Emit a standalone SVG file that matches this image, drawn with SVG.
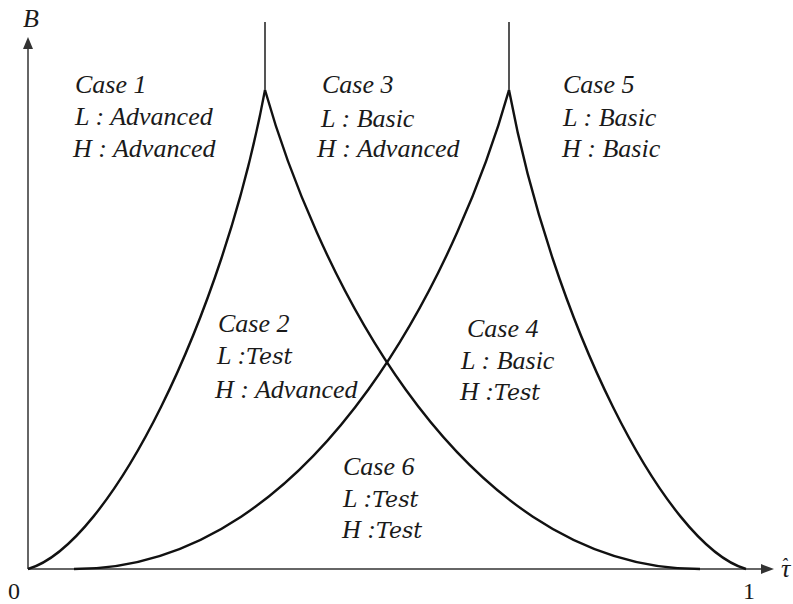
<svg xmlns="http://www.w3.org/2000/svg" width="793" height="604" viewBox="0 0 793 604">
<style>
.t{font-family:"Liberation Serif","Times New Roman",serif;font-style:italic;font-size:26px;fill:#1a1a1a}
.m{font-family:"DejaVu Serif",serif;font-style:italic;font-size:22px}
.n{font-family:"Liberation Serif","Times New Roman",serif;font-size:24px;fill:#1a1a1a}
.ax{stroke:#333;stroke-width:1.5;fill:none}
.cv{stroke:#111;stroke-width:2.4;fill:none}
.vl{stroke:#555;stroke-width:2;fill:none}
</style>
<rect width="793" height="604" fill="#fff"/>
<g id="axes">
<line class="ax" x1="28" y1="569" x2="28" y2="46"/>
<polygon points="28,37 23,49 33,49" fill="#333"/>
<line class="ax" x1="28" y1="569" x2="763" y2="569"/>
<polygon points="774,569 761,564 761,574" fill="#333"/>
<text class="t" x="23" y="27" font-size="21">B</text>
<text class="n" x="8" y="599">0</text>
<text class="n" x="743" y="599">1</text>
<text class="t" x="781" y="577" font-size="24">τ<tspan dx="-9" dy="-6" font-size="18">ˆ</tspan></text>
</g>
<g id="connectors">
<path class="cv" d="M28,569 C110,545 222,320 265,90"/>
<path class="cv" d="M265,90 C310,250 450,569 700,569"/>
<path class="cv" d="M509,90 C464,250 324,569 74,569"/>
<path class="cv" d="M746,569 C664,545 552,320 509,90"/>
<line class="vl" x1="265" y1="22" x2="265" y2="90"/>
<line class="vl" x1="509" y1="22" x2="509" y2="90"/>
</g>
<g id="case1">
<text class="t" x="75" y="93">Case 1</text>
<text class="t" x="75" y="125">L : Advanced</text>
<text class="t" x="73" y="157">H : Advanced</text>
</g>
<g id="case3">
<text class="t" x="322" y="93">Case 3</text>
<text class="t" x="321" y="127">L : Basic</text>
<text class="t" x="317" y="157">H : Advanced</text>
</g>
<g id="case5">
<text class="t" x="563" y="93">Case 5</text>
<text class="t" x="563" y="126">L : Basic</text>
<text class="t" x="562" y="157">H : Basic</text>
</g>
<g id="case2">
<text class="t" x="218" y="332">Case 2</text>
<text class="t" x="217" y="364">L :<tspan class="m">Test</tspan></text>
<text class="t" x="215" y="398">H : Advanced</text>
</g>
<g id="case4">
<text class="t" x="467" y="337">Case 4</text>
<text class="t" x="461" y="369">L : Basic</text>
<text class="t" x="460" y="400">H :<tspan class="m">Test</tspan></text>
</g>
<g id="case6">
<text class="t" x="343" y="475">Case 6</text>
<text class="t" x="343" y="507">L :<tspan class="m">Test</tspan></text>
<text class="t" x="342" y="538">H :<tspan class="m">Test</tspan></text>
</g>
</svg>
